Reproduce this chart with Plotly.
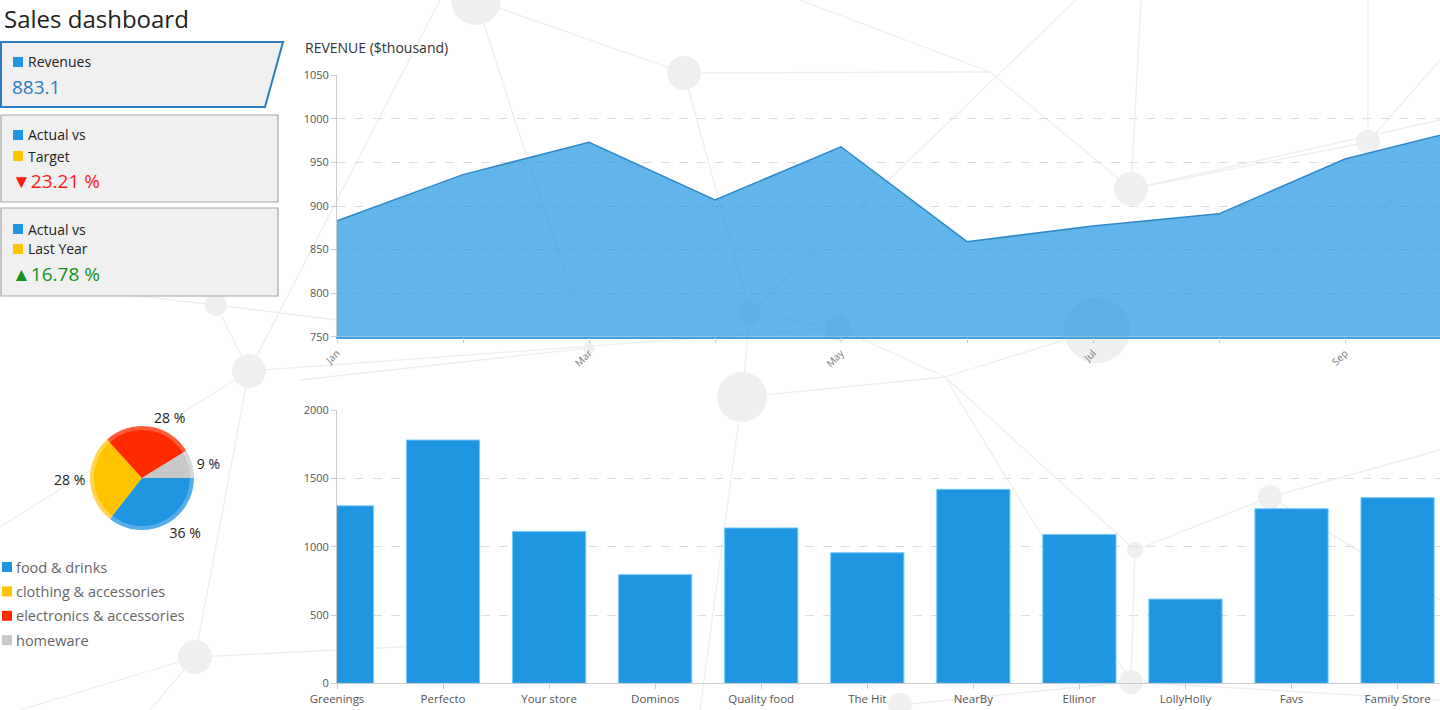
import plotly.graph_objects as go

W = 1440
H = 710
FONT = "Open Sans"

months = ["Jan", "Feb", "Mar", "Apr", "May", "Jun", "Jul", "Aug", "Sep", "Oct"]
revenue = [883.1, 936, 973, 907, 968, 859, 877, 891, 954, 990]

stores = ["Greenings", "Perfecto", "Your store", "Dominos", "Quality food", "The Hit",
          "NearBy", "Ellinor", "LollyHolly", "Favs", "Family Store"]
storeSales = [1300, 1782, 1113, 796, 1138, 956, 1421, 1091, 617, 1279, 1360]

categories = ["food & drinks", "clothing & accessories", "electronics & accessories", "homeware"]
categoryShare = [35.6, 27.7, 27.9, 8.8]
categoryColors = ["#1E96E2", "#FFC300", "#FF2A00", "#C8C8C8"]
categoryRim = ["#55AEEA", "#FFD34D", "#FF5A3A", "#D8D8D8"]

revenueTotal = "883.1"
vsTarget = "23.21 %"
vsLastYear = "16.78 %"

# background network (decoration only)
nodes = [(476, 0, 25), (684, 73, 17), (1131, 189, 17), (1368, 142, 12), (1097, 330, 33),
         (750, 313, 11), (838, 328, 13), (589, 348, 6), (742, 397, 25), (249, 371, 17),
         (216, 305, 11), (195, 657, 17), (1270, 497, 12), (1135, 550, 8), (1131, 682, 12),
         (900, 705, 12)]
links = [((476, 0), (684, 73)), ((684, 73), (990, 72)), ((684, 73), (750, 313)),
         ((476, 0), (589, 348)), ((990, 72), (1131, 189)), ((1076, 0), (750, 313)),
         ((1131, 189), (1368, 142)), ((1368, 142), (1368, 0)), ((1368, 142), (1440, 60)),
         ((1131, 189), (1141, 0)), ((750, 313), (742, 397)), ((750, 313), (838, 328)),
         ((838, 328), (945, 377)), ((945, 377), (1097, 330)), ((249, 371), (838, 328)),
         ((249, 371), (216, 305)), ((249, 371), (0, 527)), ((249, 371), (195, 657)),
         ((195, 657), (480, 643)), ((195, 657), (20, 710)), ((195, 657), (150, 710)),
         ((216, 305), (337, 320)), ((216, 305), (0, 280)), ((1270, 497), (1135, 550)),
         ((1135, 550), (1131, 682)), ((1131, 682), (900, 705)), ((1270, 497), (1440, 450)),
         ((1270, 497), (1440, 600)), ((742, 397), (945, 377)), ((742, 397), (700, 710)),
         ((589, 348), (300, 380)), ((990, 72), (800, 0)), ((1097, 330), (1440, 180)),
         ((945, 377), (1131, 682)), ((1131, 189), (1440, 120)), ((249, 371), (440, 0)),
         ((1135, 550), (945, 377)), ((1131, 682), (1440, 700))]


def px(x):
    return x / W


def py(y):
    return 1 - y / H


def addBackground(fig):
    for (x0, y0), (x1, y1) in links:
        fig.add_shape(type="line", xref="paper", yref="paper", x0=px(x0), y0=py(y0),
                      x1=px(x1), y1=py(y1), line=dict(color="#EEEEEE", width=1.3), layer="below")
    for x, y, r in nodes:
        fig.add_shape(type="circle", xref="paper", yref="paper", x0=px(x - r), x1=px(x + r),
                      y0=py(y + r), y1=py(y - r), fillcolor="#EFEFEF", line=dict(width=0),
                      layer="below")


def addText(fig, x, y, text, size, color, anchor="left"):
    fig.add_annotation(xref="paper", yref="paper", x=px(x), y=py(y), text=text,
                       showarrow=False, xanchor=anchor, yanchor="middle",
                       font=dict(family=FONT, size=size, color=color))


def addSquare(fig, x, y, color, size=10):
    fig.add_shape(type="rect", xref="paper", yref="paper", x0=px(x), x1=px(x + size),
                  y0=py(y + size / 2), y1=py(y - size / 2), fillcolor=color,
                  line=dict(width=0))


def addCards(fig):
    path = "M {} {} L {} {} L {} {} L {} {} Z".format(px(1), py(42), px(283), py(42),
                                                      px(265), py(107), px(1), py(107))
    fig.add_shape(type="path", xref="paper", yref="paper", path=path, fillcolor="#F0F0F0",
                  line=dict(color="#2B7CC1", width=2), layer="below")
    for top, bottom in [(115, 202), (208, 296)]:
        fig.add_shape(type="rect", xref="paper", yref="paper", x0=px(1), x1=px(278),
                      y0=py(bottom), y1=py(top), fillcolor="#F0F0F0",
                      line=dict(color="#A5A5A5", width=1.2), layer="below")

    addSquare(fig, 13, 62, "#1E96E2")
    addText(fig, 26, 62, "Revenues", 14, "#222222")
    addText(fig, 10, 87, revenueTotal, 19, "#2B7CC1")

    addSquare(fig, 13, 135, "#1E96E2")
    addText(fig, 26, 135, "Actual vs", 14, "#222222")
    addSquare(fig, 13, 156, "#FFC300")
    addText(fig, 26, 156, "Target", 14, "#222222")
    addText(fig, 10, 181, "▼" + vsTarget, 19, "#FF1A1A")

    addSquare(fig, 13, 229, "#1E96E2")
    addText(fig, 26, 229, "Actual vs", 14, "#222222")
    addSquare(fig, 13, 249, "#FFC300")
    addText(fig, 26, 249, "Last Year", 14, "#222222")
    addText(fig, 10, 274, "▲" + vsLastYear, 19, "#14921E")


def addPie(fig):
    cx, cy, r = 142, 478, 52
    fig.add_trace(go.Pie(labels=categories, values=categoryShare, sort=False,
                         direction="clockwise", rotation=90,
                         marker=dict(colors=categoryRim, line=dict(width=0)),
                         textposition="outside", texttemplate="%{value:.0f} %",
                         textfont=dict(family=FONT, size=14, color="#222222"),
                         domain=dict(x=[px(cx - r), px(cx + r)], y=[py(cy + r), py(cy - r)]),
                         showlegend=False, hoverinfo="label+percent"))
    ri = r - 4
    fig.add_trace(go.Pie(labels=categories, values=categoryShare, sort=False,
                         direction="clockwise", rotation=90,
                         marker=dict(colors=categoryColors, line=dict(width=0)),
                         textinfo="none",
                         domain=dict(x=[px(cx - ri), px(cx + ri)], y=[py(cy + ri), py(cy - ri)]),
                         showlegend=False, hoverinfo="label+percent"))
    for i, (name, color) in enumerate(zip(categories, categoryColors)):
        y = 567 + i * 24.4
        addSquare(fig, 2, y, color)
        addText(fig, 14, y, name, 14.5, "#666666")


def createDashboard():
    fig = go.Figure()
    addBackground(fig)
    addCards(fig)

    fig.add_trace(go.Scatter(x=months, y=revenue, mode="lines", fill="tozeroy",
                             fillcolor="rgba(30,150,226,0.70)",
                             line=dict(color="#2F88C8", width=1.5),
                             xaxis="x", yaxis="y", showlegend=False, name="Revenue"))
    fig.add_trace(go.Bar(x=stores, y=storeSales, width=0.69,
                         marker=dict(color="#1E96E2", line=dict(color="#74C8F7", width=1)),
                         xaxis="x2", yaxis="y2", showlegend=False, name="Sales"))
    addPie(fig)

    addText(fig, 2, 19, "Sales dashboard", 24, "#222222")
    addText(fig, 303, 47, "REVENUE ($thousand)", 14, "#333333")

    tickFont = dict(family=FONT, size=11.5, color="#555555")
    yCommon = dict(showline=True, linecolor="#CCCCCC", linewidth=1, ticks="outside",
                   ticklen=5, tickcolor="#CCCCCC", showgrid=True, gridcolor="#DDDDDD",
                   griddash="dash", gridwidth=1, zeroline=False,
                   tickfont=dict(family=FONT, size=11, color="#555555"), automargin=False)
    fig.update_layout(
        width=W, height=H, margin=dict(l=0, r=0, t=0, b=0, autoexpand=False),
        paper_bgcolor="white", plot_bgcolor="rgba(0,0,0,0)",
        font=dict(family=FONT, color="#333333"),
        xaxis=dict(domain=[px(337), 1], anchor="y", type="category", range=[0, 8.754],
                   tickvals=months, ticktext=[m if i % 2 == 0 else "" for i, m in enumerate(months)],
                   tickangle=-45, ticks="outside", ticklen=5, tickcolor="#CCCCCC",
                   showline=True, linecolor="#4A9BD6", linewidth=1.5, showgrid=False,
                   automargin=False, tickfont=dict(family=FONT, size=10, color="#777777")),
        yaxis=dict(domain=[py(336.7), py(75.3)], anchor="x", range=[750, 1050], dtick=50,
                   **yCommon),
        xaxis2=dict(domain=[px(337), 1], anchor="y2", type="category", range=[0, 10.4],
                    ticks="outside", ticklen=5, tickcolor="#CCCCCC", showline=True,
                    linecolor="#CCCCCC", showgrid=False, tickangle=0, tickfont=tickFont,
                    automargin=False),
        yaxis2=dict(domain=[py(683.3), py(410.3)], anchor="x2", range=[0, 2000], dtick=500,
                    **yCommon),
    )
    return fig


def main():
    fig = createDashboard()
    # page body has a default margin; drop it so the figure fills the window
    fig.write_html("out.html", config={"displayModeBar": False},
                   post_script="document.body.style.margin='0';document.body.style.overflow='hidden';")


if __name__ == "__main__":
    main()
